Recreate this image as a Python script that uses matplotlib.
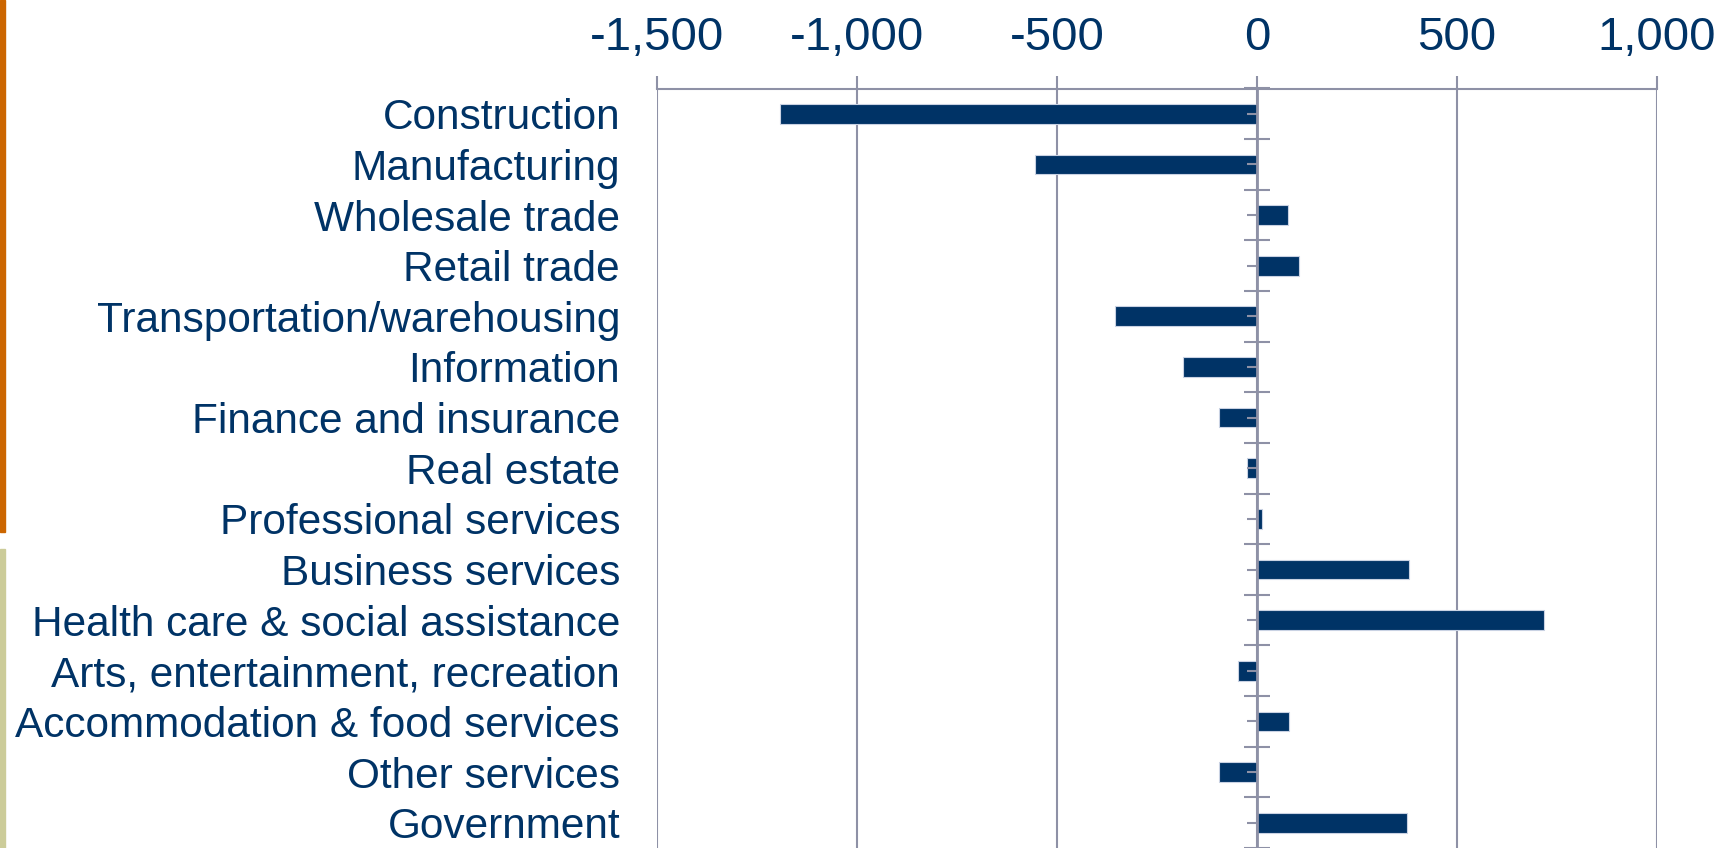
import numpy as np
import matplotlib
matplotlib.use("Agg")
import matplotlib.pyplot as plt
from matplotlib.ticker import FuncFormatter
from matplotlib.patches import Rectangle

plt.rcParams['font.family'] = ['Liberation Sans', 'DejaVu Sans']

# employment change by industry (thousands)
industries = ["Construction", "Manufacturing", "Wholesale trade", "Retail trade",
              "Transportation/warehousing", "Information", "Finance and insurance",
              "Real estate", "Professional services", "Business services",
              "Health care & social assistance", "Arts, entertainment, recreation",
              "Accommodation & food services", "Other services", "Government"]
changes = [-1193, -555, 78, 106, -356, -184, -95, -24, 12, 381, 717, -47, 81, -96, 376]
xticks = [-1500, -1000, -500, 0, 500, 1000]

navy = '#003366'
grey = '#8e91a6'

fig = plt.figure(figsize=(17.35, 8.48), dpi=100)
ax = fig.add_axes([657 / 1735, 0, 1000 / 1735, 1 - 88.5 / 848])

pos = np.arange(len(industries))
ax.barh(pos, changes, height=0.39, color=navy, edgecolor='#c9d2e3', linewidth=0.8, zorder=3)

ax.set_xlim(-1500, 1000)
ax.set_ylim(len(industries) - 0.5, -0.5)
ax.set_xticks(xticks)
ax.xaxis.set_major_formatter(FuncFormatter(lambda v, p: '{:,.0f}'.format(v)))
ax.xaxis.tick_top()
ax.tick_params(axis='x', direction='out', length=9.5, width=1.5, color=grey,
               labelsize=34, labelcolor=navy, pad=11)
ax.grid(axis='x', color=grey, linewidth=1.5, zorder=1)
ax.set_axisbelow(True)

ax.set_yticks(pos)
ax.set_yticklabels(industries)
ax.tick_params(axis='y', length=0, labelsize=30.5, labelcolor=navy, pad=26.6)

for s in ['left', 'right', 'bottom']:
    ax.spines[s].set_visible(False)
ax.spines['top'].set_color(grey)
ax.spines['top'].set_linewidth(1.5)

# category axis drawn at zero, on top of the bars
zero = ax.secondary_yaxis(1500 / 2500)
zero.set_yticks(np.arange(len(industries) + 1) - 0.5)
zero.set_yticks(pos, minor=True)
zero.tick_params(which='major', direction='inout', length=19, width=1.5, color=grey,
                 labelleft=False, labelright=False)
zero.tick_params(which='minor', direction='in', length=7, width=1.5, color=grey,
                 labelleft=False, labelright=False)
zero.set_yticklabels([])
for sp in zero.spines.values():
    sp.set_edgecolor(grey)
    sp.set_linewidth(2)
zero.set_zorder(5)

# side accent bars
fig.patches.append(Rectangle((0, 1 - 532 / 848), 5 / 1735, 532 / 848,
                             transform=fig.transFigure, color='#cc6600'))
fig.patches.append(Rectangle((0, 0), 5 / 1735, 1 - 549 / 848,
                             transform=fig.transFigure, color='#cccc99'))

fig.savefig('out.png', dpi=100)
